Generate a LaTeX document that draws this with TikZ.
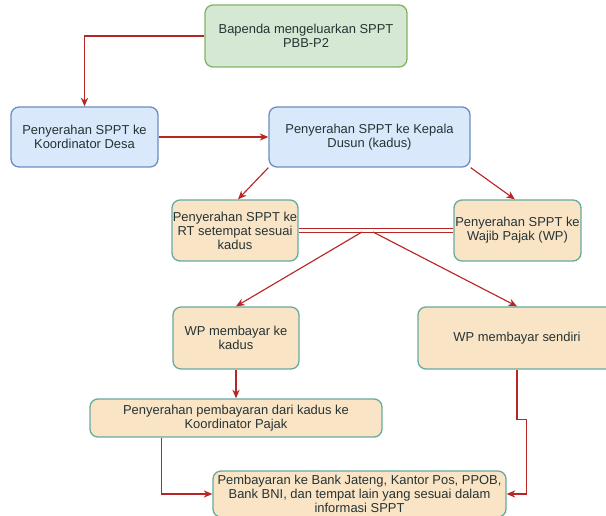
\documentclass[tikz,border=0pt]{standalone}
\usepackage{fontspec}
\setmainfont{Liberation Sans}
\usepackage{xcolor}
\usetikzlibrary{positioning, calc, arrows.meta}

\definecolor{greenfill}{HTML}{D5E8D4}
\definecolor{greenline}{HTML}{82B366}
\definecolor{bluefill}{HTML}{DAE8FC}
\definecolor{blueline}{HTML}{6C8EBF}
\definecolor{peachfill}{HTML}{FAE4C6}
\definecolor{tealline}{HTML}{67AB9F}
\definecolor{flowred}{HTML}{B82525}
\definecolor{txtgray}{HTML}{263333}

\begin{document}
\begin{tikzpicture}[x=0.75pt, y=-0.75pt, >={Stealth[length=6.5pt,width=5.5pt]},
    boxsize/.style 2 args={minimum width=#1*0.75pt, minimum height=#2*0.75pt},
    box/.style={draw, rounded corners=6pt, line width=1pt, align=center,
        inner sep=0pt, text=txtgray, font=\fontsize{9.7}{10.5}\selectfont},
    greenbox/.style={box, fill=greenfill, draw=greenline},
    bluebox/.style={box, fill=bluefill, draw=blueline},
    peachbox/.style={box, fill=peachfill, draw=tealline},
    flow/.style={->, draw=flowred, line width=0.85pt}]

    \path[use as bounding box, clip] (0,0) rectangle (606,516);

    % --- Top: Bapenda ---
    \node[greenbox, boxsize={202}{62}] (bapenda) at (306,36)
        {Bapenda mengeluarkan SPPT\\PBB-P2};

    % --- Second row ---
    \node[bluebox, boxsize={147}{60}] (koordesa) at (84.5,137)
        {Penyerahan SPPT ke\\Koordinator Desa};
    \node[bluebox, boxsize={201}{60}] (kadus) at (369.5,137)
        {Penyerahan SPPT ke Kepala\\Dusun (kadus)};

    % --- Third row: RT and WP ---
    \node[peachbox, boxsize={126}{61}] (rt) at (235,230.5)
        {Penyerahan SPPT ke\\RT setempat sesuai\\kadus};
    \node[peachbox, boxsize={127}{61}] (wp) at (517.5,230.5)
        {Penyerahan SPPT ke\\Wajib Pajak (WP)};

    % --- Payment row ---
    \node[peachbox, boxsize={126}{62}] (bayarkadus) at (236,338)
        {WP membayar ke\\kadus};
    \node[peachbox, boxsize={198}{62}] (sendiri) at (517,338)
        {WP membayar sendiri};
    \node[peachbox, boxsize={292}{38}] (koorpajak) at (236,418)
        {Penyerahan pembayaran dari kadus ke\\Koordinator Pajak};

    % --- Bottom: bank ---
    \node[peachbox, boxsize={293}{46}] (bank) at (359.5,494)
        {Pembayaran ke Bank Jateng, Kantor Pos, PPOB,\\Bank BNI, dan tempat lain yang sesuai dalam\\informasi SPPT};

    % --- Connectors ---
    \draw[flow] (bapenda.west) -| (koordesa.north);
    \draw[flow] (koordesa.east) -- (kadus.west);
    \draw[flow] (kadus.south west) -- ([xshift=2.25pt]rt.north);
    \draw[flow] (kadus.south east) -- ([xshift=-2pt]wp.north);

    % double link between RT and WP
    \draw[draw=flowred, line width=0.65pt, double=white, double distance=1.9pt]
        (rt.east) -- (wp.west);

    \coordinate (splitl) at (362,232);
    \coordinate (splitr) at (373,232);
    \draw[flow] (splitl) -- (bayarkadus.north);
    \draw[flow] (splitr) -- (sendiri.north);

    \draw[flow] (bayarkadus.south) -- (koorpajak.north);
    \draw[flow] ($(koorpajak.south west)+(72,0)$) |- (bank.west);
    \draw[flow] (sendiri.south) -- ++(0,50) -- ++(9.5,0) |- (bank.east);

\end{tikzpicture}
\end{document}
